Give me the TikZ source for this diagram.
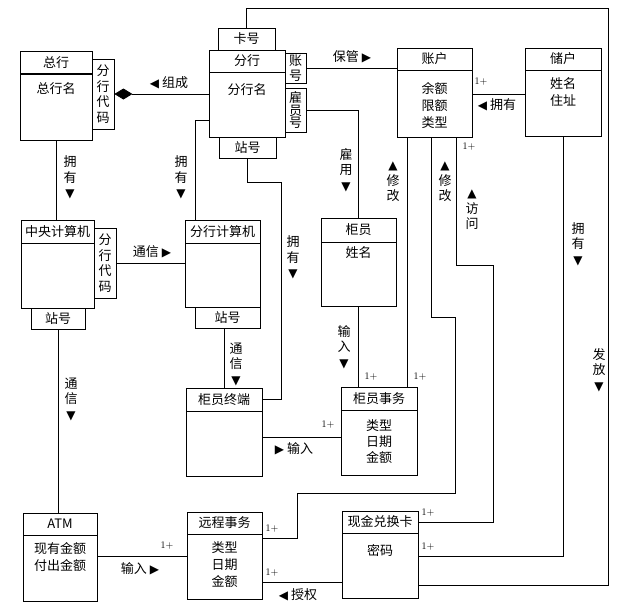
\documentclass[tikz,border=0pt]{standalone}
\usepackage{fontspec}
\newfontfamily\cjk{Noto Sans CJK SC}
\newfontfamily\symf{DejaVu Sans}
\usetikzlibrary{arrows.meta}

\begin{document}
\begin{tikzpicture}[
    x=1pt, y=-1pt,
    font=\cjk\fontsize{13}{17}\selectfont,
    hd/.style={draw, line width=0.8pt, minimum height=22pt, inner sep=0pt},
    bd/.style={draw, line width=0.8pt, inner sep=0pt, anchor=north},
    att/.style={draw, line width=0.8pt, inner sep=0pt, align=center, font=\cjk\fontsize{13}{15.5}\selectfont},
    txt/.style={inner sep=0pt, align=center},
    tag/.style={inner sep=0pt, align=center, font=\cjk\fontsize{13}{15.5}\selectfont},
    mul/.style={inner sep=0pt, font=\rmfamily\fontsize{10}{12}\selectfont},
    line/.style={line width=0.8pt}
    ]
\useasboundingbox (0,0) rectangle (628,614);

% Classes (fixed coordinates)
\node[hd, minimum width=72pt] (zhT) at (56,62.5) {总行};
\node[bd, minimum width=72pt, minimum height=66pt] (zhB) at (zhT.south) {};
\node[txt] (zhX) at (56,89) {总行名};
\node[att, minimum width=22pt, minimum height=70pt] (dm1) at (103,94) {分\\行\\代\\码};

\node[hd, minimum width=76pt] (fhT) at (247,61) {分行};
\node[bd, minimum width=76pt, minimum height=65pt] (fhB) at (fhT.south) {};
\node[txt] (fhX) at (247,90) {分行名};
\node[att, minimum width=57pt, minimum height=22pt] (kh) at (246.5,39) {卡号};
\node[att, minimum width=57pt, minimum height=21pt] (fz) at (247.5,147.5) {站号};
\node[att, minimum width=21pt, minimum height=30pt] (zhh) at (295.5,68) {账\\号};
\node[att, minimum width=21pt, minimum height=44pt, font=\cjk\fontsize{13}{12.8}\selectfont] (gyh) at (295.5,110) {雇\\员\\号};

\node[hd, minimum width=73pt, minimum height=23pt] (zyT) at (57.5,231.5) {中央计算机};
\node[bd, minimum width=73pt, minimum height=65pt] (zyB) at (zyT.south) {};
\node[att, minimum width=22pt, minimum height=70pt] (dm2) at (105,263) {分\\行\\代\\码};
\node[att, minimum width=54pt, minimum height=21pt] (zyz) at (58,318.5) {站号};

\node[hd, minimum width=75pt, minimum height=23pt] (fjT) at (222.5,231.5) {分行计算机};
\node[bd, minimum width=75pt, minimum height=64pt] (fjB) at (fjT.south) {};
\node[att, minimum width=65pt, minimum height=21pt] (fjz) at (227.5,317.5) {站号};

\node[hd, minimum width=75pt, minimum height=24pt] (gyT) at (358.5,230) {柜员};
\node[bd, minimum width=75pt, minimum height=64pt] (gyB) at (gyT.south) {};
\node[txt] (gyX) at (358.5,253) {姓名};

\node[hd, minimum width=75pt] (acT) at (434.5,59) {账户};
\node[bd, minimum width=75pt, minimum height=67pt] (acB) at (acT.south) {};
\node[txt] (acX) at (434.5,105) {余额\\限额\\类型};

\node[hd, minimum width=76pt] (chT) at (563,59) {储户};
\node[bd, minimum width=76pt, minimum height=66pt] (chB) at (chT.south) {};
\node[txt] (chX) at (563,92.5) {姓名\\住址};

\node[hd, minimum width=76pt, minimum height=23pt] (zdT) at (224,399.5) {柜员终端};
\node[bd, minimum width=76pt, minimum height=65pt] (zdB) at (zdT.south) {};

\node[hd, minimum width=76pt, minimum height=23pt] (swT) at (379,398.5) {柜员事务};
\node[bd, minimum width=76pt, minimum height=65pt] (swB) at (swT.south) {};
\node[txt, font=\cjk\fontsize{13}{16}\selectfont] (swX) at (379,442) {类型\\日期\\金额};

\node[hd, minimum width=76pt] (cdT) at (380,522) {现金兑换卡};
\node[bd, minimum width=76pt, minimum height=65pt] (cdB) at (cdT.south) {};
\node[txt] (cdX) at (380,550) {密码};

\node[hd, minimum width=75pt] (ycT) at (224.5,523) {远程事务};
\node[bd, minimum width=75pt, minimum height=65pt] (ycB) at (ycT.south) {};
\node[txt] (ycX) at (224.5,565) {类型\\日期\\金额};

\node[hd, minimum width=74pt] (atT) at (60,524) {ATM};
\node[bd, minimum width=74pt, minimum height=66pt] (atB) at (atT.south) {};
\node[txt] (atX) at (60,557.5) {现有金额\\付出金额};

% Helper points on the boxes
\coordinate (p1) at ([yshift=-15.5pt]fhB.west);
\coordinate (p2) at ([xshift=11pt]acB.south west);
\coordinate (p3) at ([yshift=10pt]acB.east);
\coordinate (p4) at ([yshift=7pt]zdB.east);
\coordinate (p5) at ([yshift=12pt]atB.east);
\coordinate (p6) at ([yshift=-16.5pt]cdB.west);

% Connectors
\draw[line, {Diamond[length=18pt, width=11pt]}-] (dm1.east) -- (dm1.east -| fhB.west);
\draw[line] (zhh.east) -- (zhh.east -| acB.west);
\draw[line] (gyh.east) -| (gyT.north);
\draw[line] (p3) -- (p3 -| chB.west);
\draw[line] (zhB.south) -- (zhB.south |- zyT.north);
\draw[line] (p1) -| ([xshift=11pt]fjT.north west);
\draw[line] (dm2.east) -- (dm2.east -| fjB.west);
\draw[line] (fz.south) |- (281,182) |- (zdT.east);
\draw[line] (zdT.north) -- (zdT.north |- fjz.south);
\draw[line] (zyz.south) -- (zyz.south |- atT.north);
\draw[line] (p4) -- (p4 -| swB.west);
\draw[line] (gyB.south) -- (gyB.south |- swT.north);
\draw[line] (p2) -- (p2 |- swT.north);
\draw[line] ([xshift=35pt]acB.south west) |- (455,317) |- (297,493) |- ([yshift=28.5pt]ycB.east);
\draw[line] ([xshift=60pt]acB.south west) |- (493,265) |- (cdT.east);
\draw[line] (chB.south) |- ([yshift=9.5pt]cdB.east);
\draw[line] (kh.north) |- (608,8) |- ([yshift=-19.5pt]cdB.east);
\draw[line] (p5) -- (p5 -| ycB.west);
\draw[line] (p6) -- (p6 -| ycB.east);

% Association names
\node[tag] (l1) at (169,83) {{\symf\fontsize{12}{12}\selectfont ◀} 组成};
\node[tag] (l2) at (352,57) {保管 {\symf\fontsize{12}{12}\selectfont ▶}};
\node[tag] (l3) at (497,105) {{\symf\fontsize{12}{12}\selectfont ◀} 拥有};
\node[tag] (l4) at (152,252) {通信 {\symf\fontsize{12}{12}\selectfont ▶}};
\node[tag] (l5) at (294,449) {{\symf\fontsize{12}{12}\selectfont ▶} 输入};
\node[tag] (l6) at (140,569) {输入 {\symf\fontsize{12}{12}\selectfont ▶}};
\node[tag] (l7) at (298,595) {{\symf\fontsize{12}{12}\selectfont ◀} 授权};
\node[tag] (l8) at (70,177.5) {拥\\有\\{\symf\fontsize{12}{12}\selectfont ▼}};
\node[tag] (l9) at (181,177.5) {拥\\有\\{\symf\fontsize{12}{12}\selectfont ▼}};
\node[tag] (l10) at (293,257.5) {拥\\有\\{\symf\fontsize{12}{12}\selectfont ▼}};
\node[tag] (l11) at (236,364) {通\\信\\{\symf\fontsize{12}{12}\selectfont ▼}};
\node[tag] (l12) at (71,399) {通\\信\\{\symf\fontsize{12}{12}\selectfont ▼}};
\node[tag] (l13) at (346,170) {雇\\用\\{\symf\fontsize{12}{12}\selectfont ▼}};
\node[tag] (l14) at (393,182) {{\symf\fontsize{12}{12}\selectfont ▲}\\修\\改};
\node[tag] (l15) at (445,182) {{\symf\fontsize{12}{12}\selectfont ▲}\\修\\改};
\node[tag] (l16) at (472,210) {{\symf\fontsize{12}{12}\selectfont ▲}\\访\\问};
\node[tag] (l17) at (578,244) {拥\\有\\{\symf\fontsize{12}{12}\selectfont ▼}};
\node[tag] (l18) at (599,370) {发\\放\\{\symf\fontsize{12}{12}\selectfont ▼}};
\node[tag] (l19) at (344,347) {输\\入\\{\symf\fontsize{12}{12}\selectfont ▼}};

% Multiplicities
\node[mul] (m1) at (481,82) {1+};
\node[mul] (m2) at (469,147) {1+};
\node[mul] (m3) at (371,377) {1+};
\node[mul] (m4) at (420,377) {1+};
\node[mul] (m5) at (328,425) {1+};
\node[mul] (m6) at (167,546) {1+};
\node[mul] (m7) at (272,529) {1+};
\node[mul] (m8) at (272,573) {1+};
\node[mul] (m9) at (428,513) {1+};
\node[mul] (m10) at (428,547) {1+};

\end{tikzpicture}
\end{document}
